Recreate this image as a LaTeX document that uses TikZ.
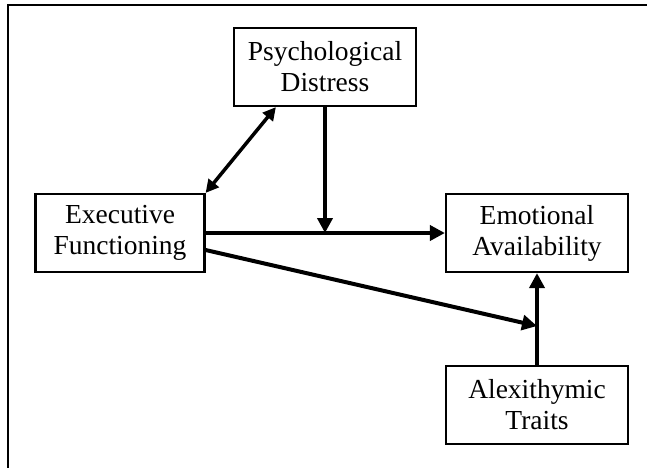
\documentclass[tikz,border=0pt]{standalone}
\usepackage{fontspec}
\setmainfont{Liberation Serif}
\usetikzlibrary{arrows.meta,positioning,calc}

\begin{document}
\begin{tikzpicture}[x=1pt, y=-1pt,
  box/.style={draw, line width=2.2pt, minimum width=182pt, minimum height=78pt,
    inner sep=0pt, align=center, font=\fontsize{27.5}{31}\selectfont},
  arr/.style={-{Triangle[length=15pt,width=15pt]}, line width=4pt},
  both/.style={{Triangle[length=13pt,width=13pt]}-{Triangle[length=13pt,width=13pt]}, line width=3.5pt}]
  \useasboundingbox (0,0) rectangle (647,467);
  \draw[line width=2.8pt] (8,480) -- (8,5) -- (660,5);
  \node[box] (psy) at (325,67) {Psychological\\Distress};
  \node[box, minimum width=169pt] (exec) at (120,233) {Executive\\Functioning};
  \node[box] (emot) at (537,233) {Emotional\\Availability};
  \node[box] (alex) at (537,405) {Alexithymic\\Traits};
  \coordinate (join) at (psy.south |- exec.east);
  \coordinate (ex2) at ([yshift=-17pt]exec.east);
  \coordinate (meet) at (537,326);
  \draw[both] ([xshift=43pt]psy.south west) -- (exec.north east);
  \draw[arr] (exec.east) -- (emot.west);
  \draw[arr] (psy.south) -- (join);
  \draw[arr] (alex.north) -- (emot.south);
  \draw[arr] (ex2) -- (meet);
\end{tikzpicture}
\end{document}
